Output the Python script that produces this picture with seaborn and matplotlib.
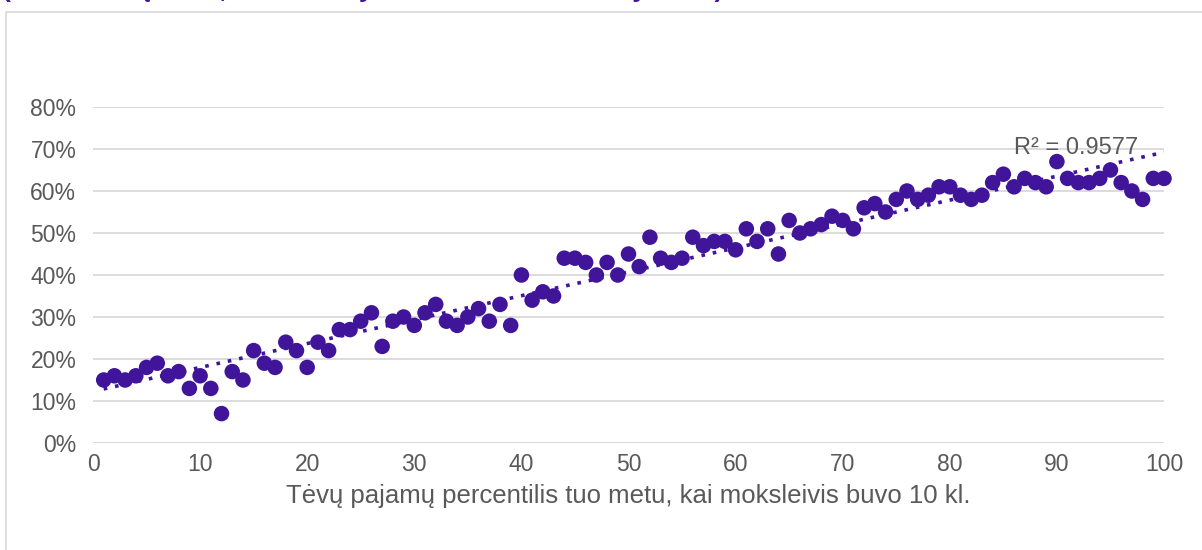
import numpy as np
import pandas as pd
import matplotlib
matplotlib.use("Agg")
import matplotlib.pyplot as plt
from matplotlib.patches import Rectangle
import seaborn as sns

percentile = list(range(1, 101))
share = [15, 16, 15, 16, 18, 19, 16, 17, 13, 16,
         13, 7, 17, 15, 22, 19, 18, 24, 22, 18,
         24, 22, 27, 27, 29, 31, 23, 29, 30, 28,
         31, 33, 29, 28, 30, 32, 29, 33, 28, 40,
         34, 36, 35, 44, 44, 43, 40, 43, 40, 45,
         42, 49, 44, 43, 44, 49, 47, 48, 48, 46,
         51, 48, 51, 45, 53, 50, 51, 52, 54, 53,
         51, 56, 57, 55, 58, 60, 58, 59, 61, 61,
         59, 58, 59, 62, 64, 61, 63, 62, 61, 67,
         63, 62, 62, 63, 65, 62, 60, 58, 63, 63]
y_ticks = [0, 10, 20, 30, 40, 50, 60, 70, 80]
x_ticks = [0, 10, 20, 30, 40, 50, 60, 70, 80, 90, 100]
x_label = "Tėvų pajamų percentilis tuo metu, kai moksleivis buvo 10 kl."
r2_label = "R² = 0.9577"
title = "(Abiturientų dalis, kurie mokysis aukštosiose mokyklose)"

df = pd.DataFrame({"p": percentile, "s": np.array(share) / 100.0})

sns.set_theme(style="white")
plt.rcParams["font.family"] = ["Liberation Sans", "DejaVu Sans"]

purple = "#40159A"
grid_c = "#D9D9D9"
text_c = "#595959"

fig = plt.figure(figsize=(12.02, 5.5), dpi=100)
fig.patch.set_facecolor("white")
fig.patches.append(Rectangle((6 / 1202, -0.1), 1.2, 1 - 12 / 550 + 0.1,
                             transform=fig.transFigure, fill=False,
                             edgecolor=grid_c, linewidth=1.2))
ax = fig.add_axes([93 / 1202, 1 - 443 / 550, (1164 - 93) / 1202, (443 - 107) / 550])

# trend line (linear least squares)
coef = np.polyfit(df["p"], df["s"], 1)
xs = np.array([1, 100])
ax.plot(xs, np.polyval(coef, xs), linestyle=(0, (1, 2.2)), color=purple,
        linewidth=2.6, zorder=2)

sns.scatterplot(data=df, x="p", y="s", ax=ax, color=purple, s=125,
                edgecolor="none", zorder=3, clip_on=False, legend=False)

ax.set_xlim(0, 100)
ax.set_ylim(0, 0.8)
ax.set_yticks([v / 100 for v in y_ticks])
ax.set_yticklabels([f"{v}%" for v in y_ticks])
ax.set_xticks(x_ticks)
ax.set_xticklabels([str(v) for v in x_ticks])
for v in y_ticks:
    ax.axhline(v / 100, color=grid_c, linewidth=1.3, zorder=1)
for sp in ax.spines.values():
    sp.set_visible(False)
ax.tick_params(axis="both", length=0, labelsize=16.5, labelcolor=text_c)
ax.tick_params(axis="y", pad=12)
ax.tick_params(axis="x", pad=7)
ax.set_xlabel(x_label, fontsize=18.5, color=text_c, labelpad=6)
ax.set_ylabel("")

ax.text(97.6, 0.702, r2_label, fontsize=17, color=text_c, ha="right", va="center", zorder=4)

fig.text(2 / 1202, 1 + 2.5 / 550, title, fontsize=19, fontweight="bold",
         color=purple, ha="left", va="baseline")

fig.savefig("out.png", dpi=100)
